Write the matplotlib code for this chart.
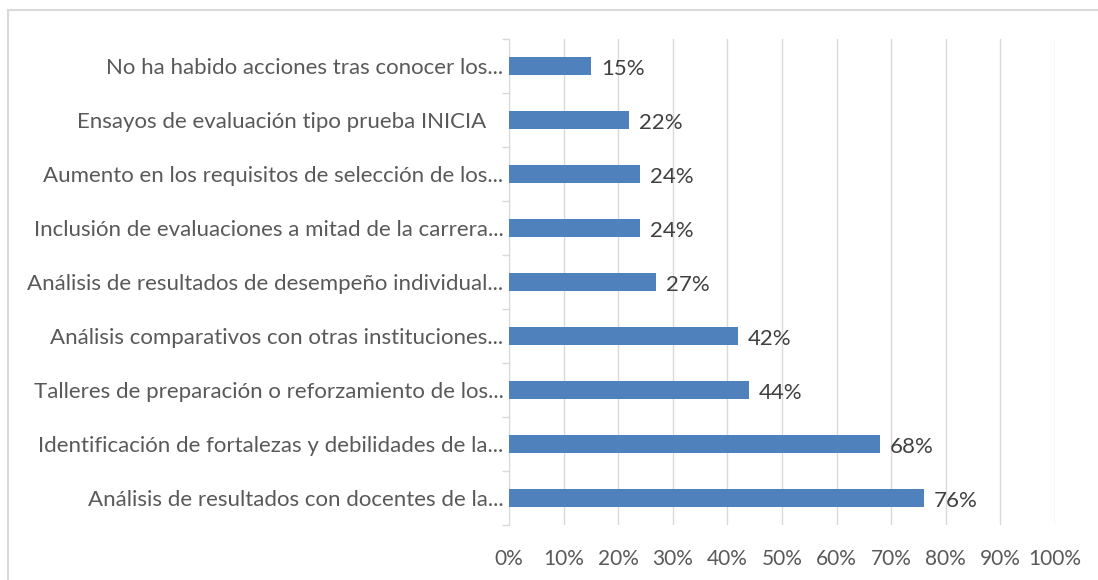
import matplotlib.pyplot as plt
from matplotlib.patches import Rectangle
from matplotlib.ticker import FixedLocator

# categories listed bottom to top, as drawn
categories = [
    "Análisis de resultados con docentes de la...",
    "Identificación de fortalezas y debilidades de la...",
    "Talleres de preparación o reforzamiento de los...",
    "Análisis comparativos con otras instituciones...",
    "Análisis de resultados de desempeño individual...",
    "Inclusión de evaluaciones a mitad de la carrera...",
    "Aumento en los requisitos de selección de los...",
    "Ensayos de evaluación tipo prueba INICIA   ",
    "No ha habido acciones tras conocer los...",
]
values = [0.76, 0.68, 0.44, 0.42, 0.27, 0.24, 0.24, 0.22, 0.15]
x_ticks = [0.0, 0.1, 0.2, 0.3, 0.4, 0.5, 0.6, 0.7, 0.8, 0.9, 1.0]

text_color = "#595959"
bar_color = "#4f81bd"
grid_color = "#d9d9d9"

plt.rcParams['font.family'] = ['Lato', 'DejaVu Sans']

W, H = 1098, 580
fig = plt.figure(figsize=(W / 100, H / 100), dpi=100)

# chart frame (partly cropped)
fig.patches.append(Rectangle((8 / W, -0.1), 1.2, 1 - 10 / H + 0.1, transform=fig.transFigure,
                             fill=False, edgecolor="#d9d9d9", linewidth=1.5))

ax = fig.add_axes([509 / W, 1 - 525 / H, (1055 - 509) / W, (525 - 39) / H])
y = list(range(len(categories)))
ax.barh(y, values, height=0.34, color=bar_color, zorder=3)
for yi, v in zip(y, values):
    ax.text(v + 0.018, yi - 0.05, f"{round(v * 100)}%", va="center", ha="left",
            fontsize=16, color="#404040")

ax.set_xlim(0, 1)
ax.set_ylim(-0.5, len(categories) - 0.5)
ax.set_xticks(x_ticks)
ax.set_xticklabels([f"{int(round(t * 100))}%" for t in x_ticks], fontsize=15, color=text_color)
ax.set_yticks(y)
ax.set_yticklabels(categories, fontsize=16, color=text_color)
ax.tick_params(axis="x", length=0, pad=17)
ax.tick_params(axis="y", which="major", length=0, pad=4)
ax.yaxis.set_minor_locator(FixedLocator([i - 0.5 for i in range(len(categories) + 1)]))
ax.tick_params(axis="y", which="minor", length=5, color=grid_color, width=1)
ax.grid(axis="x", color=grid_color, linewidth=1, zorder=0)
for side in ["top", "right", "bottom"]:
    ax.spines[side].set_visible(False)
ax.spines["left"].set_color(grid_color)

fig.savefig("out.png", dpi=100)
